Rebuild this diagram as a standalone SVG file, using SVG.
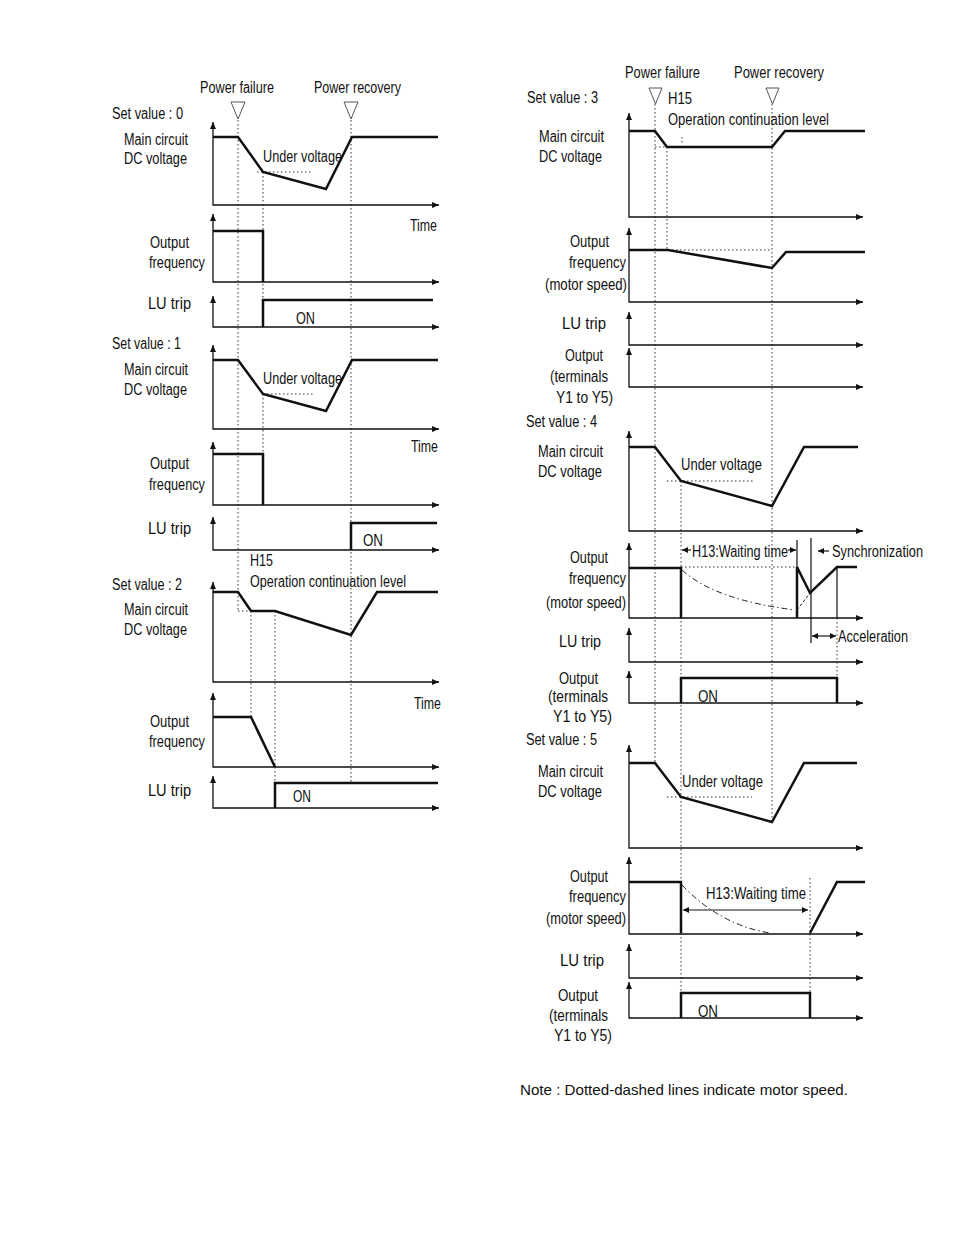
<svg xmlns="http://www.w3.org/2000/svg" width="954" height="1235" viewBox="0 0 954 1235">
<defs>
<marker id="ax" markerUnits="userSpaceOnUse" markerWidth="8" markerHeight="6" refX="7" refY="3" orient="auto-start-reverse"><path d="M0,0 L7,3 L0,6 z" fill="#111"/></marker>
<marker id="sa" markerUnits="userSpaceOnUse" markerWidth="7" markerHeight="6" refX="6" refY="3" orient="auto-start-reverse"><path d="M0,0 L6,3 L0,6 z" fill="#111"/></marker>
<style>
text{font-family:"Liberation Sans",Arial,sans-serif;font-size:16px;fill:#111}
.note{font-size:15px}
.axis{fill:none;stroke:#111;stroke-width:1.3;marker-start:url(#ax);marker-end:url(#ax)}
.tr{fill:none;stroke:#111;stroke-width:2.5;stroke-linejoin:miter}
.dot{fill:none;stroke:#333;stroke-width:1;stroke-dasharray:1.5 2.5}
.thin{fill:none;stroke:#111;stroke-width:1.2}
.dd{fill:none;stroke:#222;stroke-width:1;stroke-dasharray:6 3 1.5 3}
.dsh{fill:none;stroke:#222;stroke-width:1;stroke-dasharray:3 2}
.arr{fill:none;stroke:#111;stroke-width:1.2;marker-end:url(#sa)}
.arr2{fill:none;stroke:#111;stroke-width:1.2;marker-start:url(#sa);marker-end:url(#sa)}
.tri{fill:none;stroke:#555;stroke-width:1}
</style>
</defs>
<rect width="954" height="1235" fill="#fff"/>

<!-- shared guide lines -->
<g id="connectors">
<path class="dot" d="M238,120 V611 M263,172 V327 M263,394 V505 M351,120 V783 M251,611 V717 M275,611 V783"/>
<path class="dot" d="M257,172 H313 M263,394 H315 M238,611 H251"/>
<path class="dot" d="M655,104 V763 M772,104 V822 M667,147 V250 M682,137 V144 M655,147 H667 M668,250 H772"/>
<path class="dot" d="M681,481 V1020 M667,481 H753 M681,567 H797 M837,618 V678 M667,797 H752 M810,878 V993"/>
</g>

<g id="header-left">
<text x="200" y="93" textLength="74" lengthAdjust="spacingAndGlyphs">Power failure</text>
<text x="314" y="93" textLength="87" lengthAdjust="spacingAndGlyphs">Power recovery</text>
<path class="tri" d="M231,102 H245 L238,119 Z M344,102 H358 L351,119 Z"/>
</g>

<g id="set0">
<text x="112" y="119" textLength="71" lengthAdjust="spacingAndGlyphs">Set value : 0</text>
<text x="124" y="145" textLength="64" lengthAdjust="spacingAndGlyphs">Main circuit</text>
<text x="124" y="164" textLength="63" lengthAdjust="spacingAndGlyphs">DC voltage</text>
<text x="263" y="162" textLength="79" lengthAdjust="spacingAndGlyphs">Under voltage</text>
<text x="410" y="231" textLength="27" lengthAdjust="spacingAndGlyphs">Time</text>
<text x="150" y="248" textLength="39" lengthAdjust="spacingAndGlyphs">Output</text>
<text x="149" y="268" textLength="56" lengthAdjust="spacingAndGlyphs">frequency</text>
<text x="148" y="309" textLength="43" lengthAdjust="spacingAndGlyphs">LU trip</text>
<text x="296" y="324" textLength="19" lengthAdjust="spacingAndGlyphs">ON</text>
<path class="axis" d="M213,122 V205 H439"/>
<path class="axis" d="M213,214 V282 H439"/>
<path class="axis" d="M213,296 V327 H439"/>
<path class="tr" d="M213,137 H238 L263,172 L326,189 L352,137 H438"/>
<path class="tr" d="M213,231 H263 V282"/>
<path class="tr" d="M263,327 V300 H433"/>
</g>

<g id="set1">
<text x="112" y="349" textLength="69" lengthAdjust="spacingAndGlyphs">Set value : 1</text>
<text x="124" y="375" textLength="64" lengthAdjust="spacingAndGlyphs">Main circuit</text>
<text x="124" y="395" textLength="63" lengthAdjust="spacingAndGlyphs">DC voltage</text>
<text x="263" y="384" textLength="79" lengthAdjust="spacingAndGlyphs">Under voltage</text>
<text x="411" y="452" textLength="27" lengthAdjust="spacingAndGlyphs">Time</text>
<text x="150" y="469" textLength="39" lengthAdjust="spacingAndGlyphs">Output</text>
<text x="149" y="490" textLength="56" lengthAdjust="spacingAndGlyphs">frequency</text>
<text x="148" y="534" textLength="43" lengthAdjust="spacingAndGlyphs">LU trip</text>
<text x="363" y="546" textLength="20" lengthAdjust="spacingAndGlyphs">ON</text>
<path class="axis" d="M213,345 V429 H439"/>
<path class="axis" d="M213,442 V505 H439"/>
<path class="axis" d="M213,517 V550 H439"/>
<path class="tr" d="M213,360 H238 L263,394 L326,411 L352,360 H438"/>
<path class="tr" d="M213,454 H263 V505"/>
<path class="tr" d="M351,550 V523 H437"/>
</g>

<g id="set2">
<text x="250" y="566" textLength="23" lengthAdjust="spacingAndGlyphs">H15</text>
<text x="250" y="587" textLength="156" lengthAdjust="spacingAndGlyphs">Operation continuation level</text>
<text x="112" y="590" textLength="70" lengthAdjust="spacingAndGlyphs">Set value : 2</text>
<text x="124" y="615" textLength="64" lengthAdjust="spacingAndGlyphs">Main circuit</text>
<text x="124" y="635" textLength="63" lengthAdjust="spacingAndGlyphs">DC voltage</text>
<text x="414" y="709" textLength="27" lengthAdjust="spacingAndGlyphs">Time</text>
<text x="150" y="727" textLength="39" lengthAdjust="spacingAndGlyphs">Output</text>
<text x="149" y="747" textLength="56" lengthAdjust="spacingAndGlyphs">frequency</text>
<text x="148" y="796" textLength="43" lengthAdjust="spacingAndGlyphs">LU trip</text>
<text x="293" y="802" textLength="18" lengthAdjust="spacingAndGlyphs">ON</text>
<path class="axis" d="M213,582 V682 H439"/>
<path class="axis" d="M213,693 V767 H439"/>
<path class="axis" d="M213,776 V808 H439"/>
<path class="tr" d="M213,592 H238 L251,611 H275 L351,635 L377,592 H438"/>
<path class="tr" d="M213,717 H251 L275,767"/>
<path class="tr" d="M275,808 V783 H438"/>
</g>

<g id="header-right">
<text x="625" y="78" textLength="75" lengthAdjust="spacingAndGlyphs">Power failure</text>
<text x="734" y="78" textLength="90" lengthAdjust="spacingAndGlyphs">Power recovery</text>
<path class="tri" d="M649,88 H662 L655.5,104 Z M766,88 H779 L772.5,104 Z"/>
</g>

<g id="set3">
<text x="527" y="103" textLength="71" lengthAdjust="spacingAndGlyphs">Set value : 3</text>
<text x="668" y="104" textLength="24" lengthAdjust="spacingAndGlyphs">H15</text>
<text x="668" y="125" textLength="161" lengthAdjust="spacingAndGlyphs">Operation continuation level</text>
<text x="539" y="142" textLength="65" lengthAdjust="spacingAndGlyphs">Main circuit</text>
<text x="539" y="162" textLength="63" lengthAdjust="spacingAndGlyphs">DC voltage</text>
<text x="570" y="247" textLength="39" lengthAdjust="spacingAndGlyphs">Output</text>
<text x="569" y="268" textLength="57" lengthAdjust="spacingAndGlyphs">frequency</text>
<text x="545" y="290" textLength="82" lengthAdjust="spacingAndGlyphs">(motor speed)</text>
<text x="562" y="329" textLength="44" lengthAdjust="spacingAndGlyphs">LU trip</text>
<text x="565" y="361" textLength="38" lengthAdjust="spacingAndGlyphs">Output</text>
<text x="550" y="382" textLength="58" lengthAdjust="spacingAndGlyphs">(terminals</text>
<text x="556" y="403" textLength="57" lengthAdjust="spacingAndGlyphs">Y1 to Y5)</text>
<path class="axis" d="M629,113 V217 H863"/>
<path class="axis" d="M629,228 V302 H863"/>
<path class="axis" d="M629,312 V345 H863"/>
<path class="axis" d="M629,348 V387 H863"/>
<path class="tr" d="M629,131 H655 L667,147 H772 L785,131 H865"/>
<path class="tr" d="M629,250 H668 L772,268 L786,252 H865"/>
</g>

<g id="set4">
<text x="526" y="427" textLength="71" lengthAdjust="spacingAndGlyphs">Set value : 4</text>
<text x="538" y="457" textLength="65" lengthAdjust="spacingAndGlyphs">Main circuit</text>
<text x="538" y="477" textLength="64" lengthAdjust="spacingAndGlyphs">DC voltage</text>
<text x="681" y="470" textLength="81" lengthAdjust="spacingAndGlyphs">Under voltage</text>
<text x="692" y="557" textLength="96" lengthAdjust="spacingAndGlyphs">H13:Waiting time</text>
<text x="832" y="557" textLength="91" lengthAdjust="spacingAndGlyphs">Synchronization</text>
<text x="570" y="563" textLength="38" lengthAdjust="spacingAndGlyphs">Output</text>
<text x="569" y="584" textLength="57" lengthAdjust="spacingAndGlyphs">frequency</text>
<text x="546" y="608" textLength="80" lengthAdjust="spacingAndGlyphs">(motor speed)</text>
<text x="838" y="642" textLength="70" lengthAdjust="spacingAndGlyphs">Acceleration</text>
<text x="559" y="647" textLength="42" lengthAdjust="spacingAndGlyphs">LU trip</text>
<text x="559" y="684" textLength="39" lengthAdjust="spacingAndGlyphs">Output</text>
<text x="548" y="702" textLength="60" lengthAdjust="spacingAndGlyphs">(terminals</text>
<text x="553" y="722" textLength="59" lengthAdjust="spacingAndGlyphs">Y1 to Y5)</text>
<text x="698" y="702" textLength="20" lengthAdjust="spacingAndGlyphs">ON</text>
<path class="axis" d="M629,431 V531 H863"/>
<path class="axis" d="M629,543 V618 H863"/>
<path class="axis" d="M629,628 V662 H863"/>
<path class="axis" d="M629,671 V703 H863"/>
<path class="tr" d="M629,447 H655 L681,481 L772,506 L804,447 H858"/>
<path class="tr" d="M629,568 H681 V618"/>
<path class="tr" d="M797,618 V567 L810,593 L837,567 H857"/>
<path class="tr" d="M681,703 V678 H837 V703"/>
<path class="dd" d="M682,570 Q715,600 795,610"/>
<path class="dsh" d="M797,610 L810,593"/>
<path class="thin" d="M797,540 V567 M811,538 V643 M837,567 V618"/>
<path class="arr" d="M691,550 H682"/>
<path class="arr" d="M788,550 H796"/>
<path class="arr" d="M829,551 H818"/>
<path class="arr2" d="M812,636 H836"/>
</g>

<g id="set5">
<text x="526" y="745" textLength="71" lengthAdjust="spacingAndGlyphs">Set value : 5</text>
<text x="538" y="777" textLength="65" lengthAdjust="spacingAndGlyphs">Main circuit</text>
<text x="538" y="797" textLength="64" lengthAdjust="spacingAndGlyphs">DC voltage</text>
<text x="682" y="787" textLength="81" lengthAdjust="spacingAndGlyphs">Under voltage</text>
<text x="570" y="882" textLength="38" lengthAdjust="spacingAndGlyphs">Output</text>
<text x="569" y="902" textLength="57" lengthAdjust="spacingAndGlyphs">frequency</text>
<text x="546" y="924" textLength="80" lengthAdjust="spacingAndGlyphs">(motor speed)</text>
<text x="706" y="899" textLength="100" lengthAdjust="spacingAndGlyphs">H13:Waiting time</text>
<text x="560" y="966" textLength="44" lengthAdjust="spacingAndGlyphs">LU trip</text>
<text x="558" y="1001" textLength="40" lengthAdjust="spacingAndGlyphs">Output</text>
<text x="549" y="1021" textLength="59" lengthAdjust="spacingAndGlyphs">(terminals</text>
<text x="554" y="1041" textLength="58" lengthAdjust="spacingAndGlyphs">Y1 to Y5)</text>
<text x="698" y="1017" textLength="20" lengthAdjust="spacingAndGlyphs">ON</text>
<path class="axis" d="M629,745 V848 H863"/>
<path class="axis" d="M629,857 V934 H863"/>
<path class="axis" d="M629,944 V978 H863"/>
<path class="axis" d="M629,982 V1018 H863"/>
<path class="tr" d="M629,763 H655 L681,797 L772,822 L804,763 H857"/>
<path class="tr" d="M629,882 H681 V933"/>
<path class="tr" d="M810,933 L837,882 H865"/>
<path class="tr" d="M681,1018 V993 H810 V1018"/>
<path class="dd" d="M682,885 Q720,925 770,933"/>
<path class="arr2" d="M683,910 H808"/>
</g>

<g id="note">
<text class="note" x="520" y="1095" textLength="328" lengthAdjust="spacingAndGlyphs">Note : Dotted-dashed lines indicate motor speed.</text>
</g>
</svg>
